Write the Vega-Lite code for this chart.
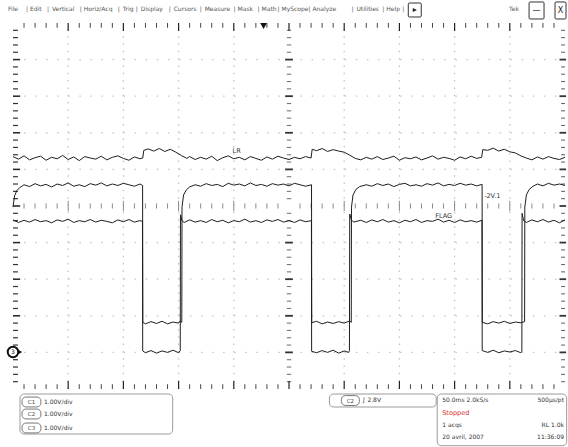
{
"$schema":"https://vega.github.io/schema/vega-lite/v6.json",
"width":568,"height":447,
"autosize":{"type":"fit","contains":"padding"},
"padding":0,
"background":"white",
"config":{"view":{"stroke":null},"text":{"font":"DejaVu Sans"}},
"encoding":{
 "x":{"field":"x","type":"quantitative","scale":{"domain":[-0.2351,10.036],"nice":false,"zero":false},"axis":null},
 "y":{"field":"y","type":"quantitative","scale":{"domain":[-1.5847,10.628],"nice":false,"zero":false},"axis":null}
},
"datasets":{
 "g":[{"x":1,"y":1},{"x":2,"y":2},{"x":3,"y":3},{"x":4,"y":4},{"x":6,"y":6},{"x":7,"y":7},{"x":8,"y":8},{"x":9,"y":9}],
 "M":[{"x":1,"y":1},{"x":2,"y":2},{"x":3,"y":3},{"x":4,"y":4},{"x":5,"y":5},{"x":6,"y":6},{"x":7,"y":7},{"x":8,"y":8},{"x":9,"y":9}],
 "m":[{"x":0.2,"y":0.2},{"x":0.4,"y":0.4},{"x":0.6,"y":0.6},{"x":0.8,"y":0.8},{"x":1.2,"y":1.2},{"x":1.4,"y":1.4},{"x":1.6,"y":1.6},{"x":1.8,"y":1.8},{"x":2.2,"y":2.2},{"x":2.4,"y":2.4},{"x":2.6,"y":2.6},{"x":2.8,"y":2.8},{"x":3.2,"y":3.2},{"x":3.4,"y":3.4},{"x":3.6,"y":3.6},{"x":3.8,"y":3.8},{"x":4.2,"y":4.2},{"x":4.4,"y":4.4},{"x":4.6,"y":4.6},{"x":4.8,"y":4.8},{"x":5.2,"y":5.2},{"x":5.4,"y":5.4},{"x":5.6,"y":5.6},{"x":5.8,"y":5.8},{"x":6.2,"y":6.2},{"x":6.4,"y":6.4},{"x":6.6,"y":6.6},{"x":6.8,"y":6.8},{"x":7.2,"y":7.2},{"x":7.4,"y":7.4},{"x":7.6,"y":7.6},{"x":7.8,"y":7.8},{"x":8.2,"y":8.2},{"x":8.4,"y":8.4},{"x":8.6,"y":8.6},{"x":8.8,"y":8.8},{"x":9.2,"y":9.2},{"x":9.4,"y":9.4},{"x":9.6,"y":9.6},{"x":9.8,"y":9.8}],
 "tr":[
{"c":1,"x":0,"y":6.35},{"c":1,"x":0.1,"y":6.28},{"c":1,"x":0.2,"y":6.37},{"c":1,"x":0.3,"y":6.26},{"c":1,"x":0.4,"y":6.32},{"c":1,"x":0.5,"y":6.36},{"c":1,"x":0.6,"y":6.25},{"c":1,"x":0.7,"y":6.33},{"c":1,"x":0.8,"y":6.29},{"c":1,"x":0.9,"y":6.38},{"c":1,"x":1.0,"y":6.27},{"c":1,"x":1.1,"y":6.34},{"c":1,"x":1.2,"y":6.24},{"c":1,"x":1.3,"y":6.35},{"c":1,"x":1.4,"y":6.31},{"c":1,"x":1.5,"y":6.28},{"c":1,"x":1.6,"y":6.36},{"c":1,"x":1.7,"y":6.26},{"c":1,"x":1.8,"y":6.33},{"c":1,"x":1.9,"y":6.37},{"c":1,"x":2.0,"y":6.30},{"c":1,"x":2.1,"y":6.25},{"c":1,"x":2.2,"y":6.34},{"c":1,"x":2.3,"y":6.29},{"c":1,"x":2.35,"y":6.31},{"c":1,"x":2.37,"y":6.52},{"c":1,"x":2.45,"y":6.56},{"c":1,"x":2.55,"y":6.50},{"c":1,"x":2.65,"y":6.57},{"c":1,"x":2.75,"y":6.49},{"c":1,"x":2.85,"y":6.55},{"c":1,"x":2.95,"y":6.47},{"c":1,"x":3.05,"y":6.38},{"c":1,"x":3.15,"y":6.30},{"c":1,"x":3.2,"y":6.35},{"c":1,"x":3.3,"y":6.27},{"c":1,"x":3.4,"y":6.33},{"c":1,"x":3.5,"y":6.28},{"c":1,"x":3.6,"y":6.36},{"c":1,"x":3.7,"y":6.24},{"c":1,"x":3.8,"y":6.32},{"c":1,"x":3.9,"y":6.37},{"c":1,"x":4.0,"y":6.29},{"c":1,"x":4.1,"y":6.33},{"c":1,"x":4.2,"y":6.26},{"c":1,"x":4.3,"y":6.35},{"c":1,"x":4.4,"y":6.30},{"c":1,"x":4.5,"y":6.25},{"c":1,"x":4.6,"y":6.34},{"c":1,"x":4.7,"y":6.28},{"c":1,"x":4.8,"y":6.36},{"c":1,"x":4.9,"y":6.31},{"c":1,"x":5.0,"y":6.27},{"c":1,"x":5.1,"y":6.33},{"c":1,"x":5.2,"y":6.29},{"c":1,"x":5.3,"y":6.35},{"c":1,"x":5.40,"y":6.31},{"c":1,"x":5.42,"y":6.55},{"c":1,"x":5.5,"y":6.51},{"c":1,"x":5.6,"y":6.57},{"c":1,"x":5.7,"y":6.49},{"c":1,"x":5.8,"y":6.54},{"c":1,"x":5.9,"y":6.50},{"c":1,"x":6.0,"y":6.47},{"c":1,"x":6.1,"y":6.39},{"c":1,"x":6.2,"y":6.30},{"c":1,"x":6.3,"y":6.26},{"c":1,"x":6.4,"y":6.33},{"c":1,"x":6.5,"y":6.28},{"c":1,"x":6.6,"y":6.35},{"c":1,"x":6.7,"y":6.27},{"c":1,"x":6.8,"y":6.31},{"c":1,"x":6.9,"y":6.36},{"c":1,"x":7.0,"y":6.25},{"c":1,"x":7.1,"y":6.32},{"c":1,"x":7.2,"y":6.29},{"c":1,"x":7.3,"y":6.34},{"c":1,"x":7.4,"y":6.26},{"c":1,"x":7.5,"y":6.31},{"c":1,"x":7.6,"y":6.37},{"c":1,"x":7.7,"y":6.28},{"c":1,"x":7.8,"y":6.33},{"c":1,"x":7.9,"y":6.30},{"c":1,"x":8.0,"y":6.25},{"c":1,"x":8.1,"y":6.34},{"c":1,"x":8.2,"y":6.29},{"c":1,"x":8.3,"y":6.36},{"c":1,"x":8.4,"y":6.30},{"c":1,"x":8.49,"y":6.33},{"c":1,"x":8.51,"y":6.54},{"c":1,"x":8.6,"y":6.52},{"c":1,"x":8.7,"y":6.58},{"c":1,"x":8.8,"y":6.50},{"c":1,"x":8.9,"y":6.55},{"c":1,"x":9.0,"y":6.48},{"c":1,"x":9.1,"y":6.45},{"c":1,"x":9.2,"y":6.37},{"c":1,"x":9.3,"y":6.31},{"c":1,"x":9.4,"y":6.26},{"c":1,"x":9.5,"y":6.34},{"c":1,"x":9.6,"y":6.28},{"c":1,"x":9.7,"y":6.35},{"c":1,"x":9.8,"y":6.30},{"c":1,"x":9.9,"y":6.27},{"c":1,"x":10.0,"y":6.33},

{"c":2,"x":0,"y":4.97},{"c":2,"x":0.03,"y":5.28},{"c":2,"x":0.07,"y":5.42},{"c":2,"x":0.12,"y":5.50},{"c":2,"x":0.2,"y":5.58},{"c":2,"x":0.3,"y":5.53},{"c":2,"x":0.4,"y":5.61},{"c":2,"x":0.5,"y":5.55},{"c":2,"x":0.6,"y":5.59},{"c":2,"x":0.7,"y":5.52},{"c":2,"x":0.8,"y":5.60},{"c":2,"x":0.9,"y":5.56},{"c":2,"x":1.0,"y":5.63},{"c":2,"x":1.1,"y":5.54},{"c":2,"x":1.2,"y":5.58},{"c":2,"x":1.3,"y":5.53},{"c":2,"x":1.4,"y":5.61},{"c":2,"x":1.5,"y":5.57},{"c":2,"x":1.6,"y":5.63},{"c":2,"x":1.7,"y":5.55},{"c":2,"x":1.8,"y":5.60},{"c":2,"x":1.9,"y":5.56},{"c":2,"x":2.0,"y":5.62},{"c":2,"x":2.1,"y":5.58},{"c":2,"x":2.2,"y":5.54},{"c":2,"x":2.3,"y":5.60},{"c":2,"x":2.348,"y":5.56},
{"c":2,"x":2.352,"y":1.82},{"c":2,"x":2.4,"y":1.78},{"c":2,"x":2.5,"y":1.84},{"c":2,"x":2.6,"y":1.79},{"c":2,"x":2.7,"y":1.85},{"c":2,"x":2.8,"y":1.78},{"c":2,"x":2.9,"y":1.83},{"c":2,"x":3.0,"y":1.80},{"c":2,"x":3.03,"y":1.86},{"c":2,"x":3.058,"y":1.82},
{"c":2,"x":3.062,"y":4.97},{"c":2,"x":3.09,"y":5.30},{"c":2,"x":3.14,"y":5.44},{"c":2,"x":3.2,"y":5.52},{"c":2,"x":3.3,"y":5.58},{"c":2,"x":3.4,"y":5.54},{"c":2,"x":3.5,"y":5.61},{"c":2,"x":3.6,"y":5.56},{"c":2,"x":3.7,"y":5.59},{"c":2,"x":3.8,"y":5.53},{"c":2,"x":3.9,"y":5.62},{"c":2,"x":4.0,"y":5.57},{"c":2,"x":4.1,"y":5.60},{"c":2,"x":4.2,"y":5.55},{"c":2,"x":4.3,"y":5.63},{"c":2,"x":4.4,"y":5.56},{"c":2,"x":4.5,"y":5.59},{"c":2,"x":4.6,"y":5.54},{"c":2,"x":4.7,"y":5.61},{"c":2,"x":4.8,"y":5.57},{"c":2,"x":4.9,"y":5.60},{"c":2,"x":5.0,"y":5.55},{"c":2,"x":5.1,"y":5.62},{"c":2,"x":5.2,"y":5.58},{"c":2,"x":5.3,"y":5.54},{"c":2,"x":5.408,"y":5.58},
{"c":2,"x":5.412,"y":1.81},{"c":2,"x":5.5,"y":1.85},{"c":2,"x":5.6,"y":1.78},{"c":2,"x":5.7,"y":1.83},{"c":2,"x":5.8,"y":1.79},{"c":2,"x":5.9,"y":1.84},{"c":2,"x":6.0,"y":1.80},{"c":2,"x":6.1,"y":1.86},{"c":2,"x":6.128,"y":1.82},
{"c":2,"x":6.132,"y":4.97},{"c":2,"x":6.16,"y":5.30},{"c":2,"x":6.21,"y":5.45},{"c":2,"x":6.28,"y":5.53},{"c":2,"x":6.4,"y":5.58},{"c":2,"x":6.5,"y":5.54},{"c":2,"x":6.6,"y":5.61},{"c":2,"x":6.7,"y":5.56},{"c":2,"x":6.8,"y":5.60},{"c":2,"x":6.9,"y":5.53},{"c":2,"x":7.0,"y":5.59},{"c":2,"x":7.1,"y":5.62},{"c":2,"x":7.2,"y":5.55},{"c":2,"x":7.3,"y":5.58},{"c":2,"x":7.4,"y":5.54},{"c":2,"x":7.5,"y":5.61},{"c":2,"x":7.6,"y":5.57},{"c":2,"x":7.7,"y":5.63},{"c":2,"x":7.8,"y":5.55},{"c":2,"x":7.9,"y":5.59},{"c":2,"x":8.0,"y":5.56},{"c":2,"x":8.1,"y":5.62},{"c":2,"x":8.2,"y":5.57},{"c":2,"x":8.3,"y":5.60},{"c":2,"x":8.4,"y":5.55},{"c":2,"x":8.498,"y":5.59},
{"c":2,"x":8.502,"y":1.82},{"c":2,"x":8.6,"y":1.78},{"c":2,"x":8.7,"y":1.84},{"c":2,"x":8.8,"y":1.80},{"c":2,"x":8.9,"y":1.85},{"c":2,"x":9.0,"y":1.79},{"c":2,"x":9.1,"y":1.83},{"c":2,"x":9.2,"y":1.81},{"c":2,"x":9.268,"y":1.84},
{"c":2,"x":9.272,"y":4.97},{"c":2,"x":9.30,"y":5.30},{"c":2,"x":9.35,"y":5.45},{"c":2,"x":9.42,"y":5.54},{"c":2,"x":9.5,"y":5.60},{"c":2,"x":9.6,"y":5.55},{"c":2,"x":9.7,"y":5.62},{"c":2,"x":9.8,"y":5.57},{"c":2,"x":9.9,"y":5.60},{"c":2,"x":10.0,"y":5.56},

{"c":3,"x":0,"y":4.62},{"c":3,"x":0.1,"y":4.55},{"c":3,"x":0.2,"y":4.61},{"c":3,"x":0.3,"y":4.56},{"c":3,"x":0.4,"y":4.63},{"c":3,"x":0.5,"y":4.57},{"c":3,"x":0.6,"y":4.60},{"c":3,"x":0.7,"y":4.54},{"c":3,"x":0.8,"y":4.62},{"c":3,"x":0.9,"y":4.58},{"c":3,"x":1.0,"y":4.64},{"c":3,"x":1.1,"y":4.55},{"c":3,"x":1.2,"y":4.60},{"c":3,"x":1.3,"y":4.57},{"c":3,"x":1.4,"y":4.63},{"c":3,"x":1.5,"y":4.56},{"c":3,"x":1.6,"y":4.61},{"c":3,"x":1.7,"y":4.58},{"c":3,"x":1.8,"y":4.54},{"c":3,"x":1.9,"y":4.62},{"c":3,"x":2.0,"y":4.57},{"c":3,"x":2.1,"y":4.63},{"c":3,"x":2.2,"y":4.56},{"c":3,"x":2.3,"y":4.60},{"c":3,"x":2.346,"y":4.58},
{"c":3,"x":2.350,"y":1.04},{"c":3,"x":2.4,"y":0.99},{"c":3,"x":2.5,"y":1.05},{"c":3,"x":2.6,"y":0.98},{"c":3,"x":2.7,"y":1.04},{"c":3,"x":2.8,"y":1.00},{"c":3,"x":2.9,"y":1.06},{"c":3,"x":3.0,"y":0.99},{"c":3,"x":3.03,"y":1.05},
{"c":3,"x":3.034,"y":4.76},{"c":3,"x":3.06,"y":4.60},{"c":3,"x":3.1,"y":4.55},{"c":3,"x":3.2,"y":4.62},{"c":3,"x":3.3,"y":4.56},{"c":3,"x":3.4,"y":4.60},{"c":3,"x":3.5,"y":4.55},{"c":3,"x":3.6,"y":4.63},{"c":3,"x":3.7,"y":4.57},{"c":3,"x":3.8,"y":4.61},{"c":3,"x":3.9,"y":4.54},{"c":3,"x":4.0,"y":4.60},{"c":3,"x":4.1,"y":4.57},{"c":3,"x":4.2,"y":4.64},{"c":3,"x":4.3,"y":4.56},{"c":3,"x":4.4,"y":4.60},{"c":3,"x":4.5,"y":4.55},{"c":3,"x":4.6,"y":4.62},{"c":3,"x":4.7,"y":4.58},{"c":3,"x":4.8,"y":4.63},{"c":3,"x":4.9,"y":4.56},{"c":3,"x":5.0,"y":4.60},{"c":3,"x":5.1,"y":4.55},{"c":3,"x":5.2,"y":4.62},{"c":3,"x":5.3,"y":4.57},{"c":3,"x":5.406,"y":4.60},
{"c":3,"x":5.410,"y":1.03},{"c":3,"x":5.5,"y":0.99},{"c":3,"x":5.6,"y":1.05},{"c":3,"x":5.7,"y":1.00},{"c":3,"x":5.8,"y":1.06},{"c":3,"x":5.9,"y":0.98},{"c":3,"x":6.0,"y":1.04},{"c":3,"x":6.08,"y":1.00},{"c":3,"x":6.095,"y":1.05},
{"c":3,"x":6.10,"y":4.78},{"c":3,"x":6.13,"y":4.62},{"c":3,"x":6.17,"y":4.56},{"c":3,"x":6.3,"y":4.61},{"c":3,"x":6.4,"y":4.55},{"c":3,"x":6.5,"y":4.62},{"c":3,"x":6.6,"y":4.57},{"c":3,"x":6.7,"y":4.63},{"c":3,"x":6.8,"y":4.56},{"c":3,"x":6.9,"y":4.60},{"c":3,"x":7.0,"y":4.54},{"c":3,"x":7.1,"y":4.61},{"c":3,"x":7.2,"y":4.57},{"c":3,"x":7.3,"y":4.63},{"c":3,"x":7.4,"y":4.55},{"c":3,"x":7.5,"y":4.60},{"c":3,"x":7.6,"y":4.58},{"c":3,"x":7.7,"y":4.64},{"c":3,"x":7.8,"y":4.56},{"c":3,"x":7.9,"y":4.61},{"c":3,"x":8.0,"y":4.55},{"c":3,"x":8.1,"y":4.62},{"c":3,"x":8.2,"y":4.57},{"c":3,"x":8.3,"y":4.60},{"c":3,"x":8.4,"y":4.56},{"c":3,"x":8.496,"y":4.61},
{"c":3,"x":8.500,"y":1.05},{"c":3,"x":8.6,"y":1.00},{"c":3,"x":8.7,"y":1.06},{"c":3,"x":8.8,"y":0.99},{"c":3,"x":8.9,"y":1.04},{"c":3,"x":9.0,"y":1.01},{"c":3,"x":9.1,"y":1.05},{"c":3,"x":9.2,"y":0.99},{"c":3,"x":9.218,"y":1.03},
{"c":3,"x":9.222,"y":4.80},{"c":3,"x":9.25,"y":4.60},{"c":3,"x":9.3,"y":4.55},{"c":3,"x":9.4,"y":4.62},{"c":3,"x":9.5,"y":4.57},{"c":3,"x":9.6,"y":4.63},{"c":3,"x":9.7,"y":4.56},{"c":3,"x":9.8,"y":4.61},{"c":3,"x":9.9,"y":4.54},{"c":3,"x":10.0,"y":4.62}
 ],
 "menu":[{"x":-0.09,"y":10.38,"s":"File"},{"x":0.307,"y":10.38,"s":"Edit"},{"x":0.705,"y":10.38,"s":"Vertical"},{"x":1.284,"y":10.38,"s":"Horiz/Acq"},{"x":1.989,"y":10.38,"s":"Trig"},{"x":2.315,"y":10.38,"s":"Display"},{"x":2.911,"y":10.38,"s":"Cursors"},{"x":3.472,"y":10.38,"s":"Measure"},{"x":4.069,"y":10.38,"s":"Mask"},{"x":4.503,"y":10.38,"s":"Math"},{"x":4.864,"y":10.38,"s":"MyScope"},{"x":5.425,"y":10.38,"s":"Analyze"},{"x":6.221,"y":10.38,"s":"Utilities"},{"x":6.763,"y":10.38,"s":"Help"},
  {"x":0.235,"y":10.38,"s":"|"},{"x":0.615,"y":10.38,"s":"|"},{"x":1.21,"y":10.38,"s":"|"},{"x":1.899,"y":10.38,"s":"|"},{"x":2.224,"y":10.38,"s":"|"},{"x":2.821,"y":10.38,"s":"|"},{"x":3.382,"y":10.38,"s":"|"},{"x":3.996,"y":10.38,"s":"|"},{"x":4.43,"y":10.38,"s":"|"},{"x":4.792,"y":10.38,"s":"|"},{"x":5.353,"y":10.38,"s":"|"},{"x":6.13,"y":10.38,"s":"|"},{"x":6.691,"y":10.38,"s":"|"},{"x":7.052,"y":10.38,"s":"|"},
  {"x":8.987,"y":10.38,"s":"Tek"}],
 "btn":[{"x":7.161,"x2":7.396,"y":10.164,"y2":10.546},{"x":9.349,"x2":9.62,"y":10.109,"y2":10.574},{"x":9.819,"x2":10.018,"y":10.109,"y2":10.574}],
 "btnT":[{"x":7.28,"y":10.36,"s":"▸"},{"x":9.485,"y":10.34,"s":"—"},{"x":9.918,"y":10.34,"s":"X"}],
 "boxes":[{"x":0.127,"x2":2.893,"y":-0.137,"y2":-1.23},{"x":5.732,"x2":7.667,"y":-0.137,"y2":-0.492},{"x":7.685,"x2":10.03,"y":-0.137,"y2":-1.55}],
 "badges":[{"x":0.163,"x2":0.506,"y":-0.22,"y2":-0.49},{"x":0.163,"x2":0.506,"y":-0.548,"y2":-0.818},{"x":0.163,"x2":0.506,"y":-0.93,"y2":-1.2},{"x":5.949,"x2":6.275,"y":-0.18,"y2":-0.45}],
 "badgeT":[{"x":0.335,"y":-0.355,"s":"C1"},{"x":0.335,"y":-0.683,"s":"C2"},{"x":0.335,"y":-1.066,"s":"C3"},{"x":6.112,"y":-0.315,"s":"C2"}],
 "info":[{"x":0.561,"y":-0.355,"s":"1.00V/div"},{"x":0.561,"y":-0.683,"s":"1.00V/div"},{"x":0.561,"y":-1.066,"s":"1.00V/div"},{"x":6.329,"y":-0.314,"s":"∫ 2.8V"},{"x":7.776,"y":-0.301,"s":"50.0ms  2.0kS/s"},{"x":7.776,"y":-0.984,"s":"1 acqs"},{"x":7.776,"y":-1.311,"s":"20 avril, 2007"}],
 "infoR":[{"x":9.982,"y":-0.301,"s":"500µs/pt"},{"x":9.982,"y":-0.984,"s":"RL 1.0k"},{"x":9.982,"y":-1.311,"s":"11:36:09"}],
 "stop":[{"x":7.776,"y":-0.656,"s":"Stopped"}],
 "lab":[{"x":3.978,"y":6.503,"s":"LR"},{"x":8.535,"y":5.273,"s":"-2V.1"},{"x":7.649,"y":4.727,"s":"FLAG"}]
},
"layer":[
 {"data":{"name":"g"},"mark":{"type":"rule","color":"#c4c4c4","strokeWidth":1.3,"strokeDash":[1.5,5.82]},"encoding":{"y":{"datum":0},"y2":{"datum":10}}},
 {"data":{"name":"g"},"mark":{"type":"rule","color":"#c4c4c4","strokeWidth":1.3,"strokeDash":[1.5,9.56]},"encoding":{"x":{"datum":0},"x2":{"datum":10}}},
 {"data":{"values":[{}]},"mark":{"type":"rule","color":"#9a9a9a","strokeWidth":1},"encoding":{"y":{"datum":5},"x":{"datum":0},"x2":{"datum":10.04}}},
 {"data":{"name":"m"},"mark":{"type":"rule","color":"#8a8a8a","strokeWidth":1},"encoding":{"y":{"datum":4.93},"y2":{"datum":5.07}}},
 {"data":{"name":"g"},"mark":{"type":"rule","color":"#8a8a8a","strokeWidth":1},"encoding":{"y":{"datum":4.86},"y2":{"datum":5.14}}},
 {"data":{"name":"m"},"mark":{"type":"rule","color":"#777","strokeWidth":1.1},"encoding":{"x":{"datum":4.96},"x2":{"datum":5.04}}},
 {"data":{"name":"g"},"mark":{"type":"rule","color":"#333","strokeWidth":1.8},"encoding":{"x":{"datum":4.93},"x2":{"datum":5.07}}},
 {"data":{"name":"m"},"mark":{"type":"rule","color":"#444","strokeWidth":1},"encoding":{"y":{"datum":10},"y2":{"datum":9.87}}},
 {"data":{"name":"M"},"mark":{"type":"rule","color":"#222","strokeWidth":1.2},"encoding":{"y":{"datum":10},"y2":{"datum":9.78}}},
 {"data":{"name":"m"},"mark":{"type":"rule","color":"#444","strokeWidth":1},"encoding":{"y":{"datum":0},"y2":{"datum":0.13}}},
 {"data":{"name":"M"},"mark":{"type":"rule","color":"#222","strokeWidth":1.2},"encoding":{"y":{"datum":0},"y2":{"datum":0.22}}},
 {"data":{"name":"m"},"mark":{"type":"rule","color":"#333","strokeWidth":1.2},"encoding":{"x":{"datum":0},"x2":{"datum":0.09}}},
 {"data":{"name":"M"},"mark":{"type":"rule","color":"#222","strokeWidth":1.5},"encoding":{"x":{"datum":0},"x2":{"datum":0.13}}},
 {"data":{"name":"m"},"mark":{"type":"rule","color":"#666","strokeWidth":1.1},"encoding":{"x":{"datum":9.93},"x2":{"datum":10.0}}},
 {"data":{"name":"M"},"mark":{"type":"rule","color":"#333","strokeWidth":1.8},"encoding":{"x":{"datum":9.9},"x2":{"datum":10.02}}},
 {"data":{"values":[{}]},"mark":{"type":"rule","color":"#111","strokeWidth":2.5},"encoding":{"y":{"datum":10},"x":{"datum":-0.02},"x2":{"datum":10.04}}},
 {"data":{"values":[{}]},"mark":{"type":"rule","color":"#111","strokeWidth":2.5},"encoding":{"y":{"datum":0},"x":{"datum":-0.02},"x2":{"datum":10.04}}},
 {"data":{"values":[{}]},"mark":{"type":"rule","color":"#111","strokeWidth":3},"encoding":{"x":{"datum":0},"y":{"datum":-0.03},"y2":{"datum":10.03}}},
 {"data":{"name":"tr"},"mark":{"type":"line","color":"#1e1e1e","strokeWidth":1,"interpolate":"linear"},"encoding":{"detail":{"field":"c"}}},
 {"data":{"name":"lab"},"mark":{"type":"text","fontSize":6.5,"color":"#333","align":"left","baseline":"middle"},"encoding":{"text":{"field":"s"}}},
 {"data":{"values":[{"x":0,"y":1.011}]},"mark":{"type":"point","shape":"circle","size":110,"filled":true,"fill":"white","stroke":"#111","strokeWidth":2,"opacity":1},"encoding":{}},
 {"data":{"values":[{"x":0.13,"y":1.011}]},"mark":{"type":"point","shape":"triangle-right","size":22,"filled":true,"color":"#111","opacity":1},"encoding":{}},
 {"data":{"values":[{"x":0,"y":1.011,"s":"3"}]},"mark":{"type":"text","fontSize":6,"color":"#111","align":"center","baseline":"middle"},"encoding":{"text":{"field":"s"}}},
 {"data":{"values":[{"x":4.539,"y":9.918}]},"mark":{"type":"point","shape":"triangle-down","size":45,"filled":true,"color":"#111","opacity":1},"encoding":{}},
 {"data":{"name":"menu"},"mark":{"type":"text","fontSize":6,"color":"#555","align":"left","baseline":"middle"},"encoding":{"text":{"field":"s"}}},
 {"data":{"name":"btn"},"mark":{"type":"rect","fill":"white","stroke":"#333","strokeWidth":1,"cornerRadius":1},"encoding":{"x2":{"field":"x2"},"y2":{"field":"y2"}}},
 {"data":{"name":"btnT"},"mark":{"type":"text","fontSize":8,"color":"#222","align":"center","baseline":"middle"},"encoding":{"text":{"field":"s"}}},
 {"data":{"name":"boxes"},"mark":{"type":"rect","fill":"white","stroke":"#9a9a9a","strokeWidth":1,"cornerRadius":4},"encoding":{"x2":{"field":"x2"},"y2":{"field":"y2"}}},
 {"data":{"name":"badges"},"mark":{"type":"rect","fill":"white","stroke":"#777","strokeWidth":1,"cornerRadius":4},"encoding":{"x2":{"field":"x2"},"y2":{"field":"y2"}}},
 {"data":{"name":"badgeT"},"mark":{"type":"text","fontSize":5.5,"color":"#444","align":"center","baseline":"middle"},"encoding":{"text":{"field":"s"}}},
 {"data":{"name":"info"},"mark":{"type":"text","fontSize":6,"color":"#333","align":"left","baseline":"middle"},"encoding":{"text":{"field":"s"}}},
 {"data":{"name":"infoR"},"mark":{"type":"text","fontSize":6,"color":"#333","align":"right","baseline":"middle"},"encoding":{"text":{"field":"s"}}},
 {"data":{"name":"stop"},"mark":{"type":"text","fontSize":6.5,"color":"#d0302a","align":"left","baseline":"middle"},"encoding":{"text":{"field":"s"}}}
]
}
